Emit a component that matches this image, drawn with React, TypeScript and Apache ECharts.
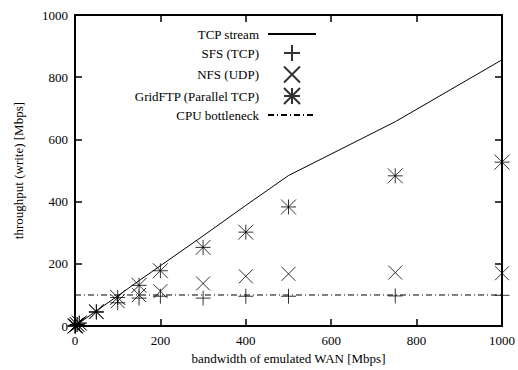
import React, { useEffect, useRef } from 'react';
import * as echarts from 'echarts';

const bandwidth = [0, 1, 5, 10, 50, 100, 150, 200, 300, 400, 500, 750, 1000];
const tcpStream = [0, 1, 5, 10, 49, 97, 146, 194, 290, 388, 484, 657, 856];
const sfsTcp = [0, 1, 5, 9, 44, 75, 90, 96, 90, 96, 96, 97, 99];
const nfsUdp = [0, 1, 5, 9, 45, 80, 100, 112, 137, 160, 168, 172, 170];
const gridFtp = [0, 1, 5, 10, 47, 92, 131, 178, 253, 302, 383, 483, 527];
const cpuBottleneckX = [0, 1000];
const cpuBottleneckY = [100, 100];
const seriesNames = ['TCP stream', 'SFS (TCP)', 'NFS (UDP)', 'GridFTP (Parallel TCP)', 'CPU bottleneck'];

const FONT = 'Liberation Serif';
const PLUS = 'path://M0,-1L0,1M-1,0L1,0';
const CROSS = 'path://M-1,-1L1,1M-1,1L1,-1';
const STAR = 'path://M0,-1L0,1M-1,0L1,0M-1,-1L1,1M-1,1L1,-1';

const pairs = (xs: number[], ys: number[]) => xs.map((x, i) => [x, ys[i]]);

export default function App() {
  const ref = useRef<HTMLDivElement>(null);
  useEffect(() => {
    if (!ref.current) return;
    const chart = echarts.init(ref.current, undefined, { renderer: 'svg' });
    const axisCommon = {
      type: 'value' as const,
      min: 0,
      max: 1000,
      interval: 200,
      axisLine: { show: true, onZero: false, lineStyle: { color: '#000', width: 2 } },
      axisTick: { show: true, inside: true, length: 7, lineStyle: { color: '#000', width: 1.5 } },
      splitLine: { show: false },
    };
    const labelStyle = { color: '#000', fontFamily: FONT, fontSize: 13 };
    const symStyle = { color: 'none', borderColor: '#000', borderWidth: 1 };
    const fmt = (v: number) => String(v);
    chart.setOption({
      animation: false,
      backgroundColor: '#fff',
      textStyle: { fontFamily: FONT, color: '#000' },
      grid: { left: 75, right: 14, top: 15, bottom: 42, containLabel: false },
      legend: {
        orient: 'vertical',
        right: 196,
        top: 21,
        align: 'right',
        itemWidth: 48,
        itemHeight: 16,
        itemGap: 0.5,
        textStyle: { ...labelStyle, lineHeight: 16, padding: [0, 4, 0, 0] },
        data: seriesNames,
      },
      xAxis: [
        {
          ...axisCommon,
          position: 'bottom',
          name: 'bandwidth of emulated WAN [Mbps]',
          nameLocation: 'middle',
          nameGap: 23,
          nameTextStyle: labelStyle,
          axisLabel: { ...labelStyle, margin: 8, formatter: fmt },
        },
        {
          ...axisCommon,
          position: 'top',
          axisLabel: { show: false },
        },
      ],
      yAxis: [
        {
          ...axisCommon,
          position: 'left',
          name: 'throughput (write) [Mbps]',
          nameLocation: 'middle',
          nameGap: 50,
          nameTextStyle: labelStyle,
          axisLabel: { ...labelStyle, margin: 7, formatter: fmt },
        },
        {
          ...axisCommon,
          position: 'right',
          axisLabel: { show: false },
        },
      ],
      series: [
        {
          name: seriesNames[0],
          type: 'line',
          data: pairs(bandwidth, tcpStream),
          symbol: 'none',
          lineStyle: { color: '#000', width: 1 },
          itemStyle: { color: 'transparent', borderWidth: 0 },
        },
        {
          name: seriesNames[1],
          type: 'scatter',
          data: pairs(bandwidth, sfsTcp),
          symbol: PLUS,
          symbolSize: 15,
          symbolKeepAspect: true,
          itemStyle: symStyle,
        },
        {
          name: seriesNames[2],
          type: 'scatter',
          data: pairs(bandwidth, nfsUdp),
          symbol: CROSS,
          symbolSize: 14,
          symbolKeepAspect: true,
          itemStyle: symStyle,
        },
        {
          name: seriesNames[3],
          type: 'scatter',
          data: pairs(bandwidth, gridFtp),
          symbol: STAR,
          symbolSize: 15,
          symbolKeepAspect: true,
          itemStyle: symStyle,
        },
        {
          name: seriesNames[4],
          type: 'line',
          data: pairs(cpuBottleneckX, cpuBottleneckY),
          symbol: 'none',
          lineStyle: { color: '#000', width: 1, type: [6, 3, 1, 3] },
          itemStyle: { color: 'transparent', borderWidth: 0 },
        },
      ],
    });
    return () => chart.dispose();
  }, []);
  return (
    <div
      ref={ref}
      style={{ position: 'fixed', left: 0, top: 0, width: 518, height: 370, background: '#fff' }}
    />
  );
}
